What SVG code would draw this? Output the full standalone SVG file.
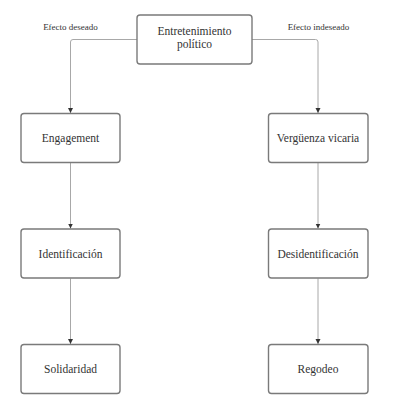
<svg xmlns="http://www.w3.org/2000/svg" width="407" height="418" viewBox="0 0 407 418">
<style>
.box{fill:#fff;stroke:#7a7a7a;stroke-width:1.4}
.t{font-family:"Liberation Serif","Times New Roman",serif;font-size:11.5px;fill:#333;text-anchor:middle}
.l{font-family:"Liberation Serif","Times New Roman",serif;font-size:9px;fill:#333;text-anchor:middle}
.c{fill:none;stroke:#a8a8a8;stroke-width:1}
</style>
<defs>
<marker id="ah" markerWidth="6" markerHeight="6" refX="5" refY="3" orient="auto" markerUnits="userSpaceOnUse">
<path d="M0,0.5 L5,3 L0,5.5 Z" fill="#333"/>
</marker>
</defs>
<rect width="407" height="418" fill="#fff"/>
<g id="connectors">
<path class="c" d="M137,39.5 H73 Q70.5,39.5 70.5,42 V113" marker-end="url(#ah)"/>
<path class="c" d="M252,39.5 H315.5 Q318,39.5 318,42 V113" marker-end="url(#ah)"/>
<path class="c" d="M70.5,163 V228.5" marker-end="url(#ah)"/>
<path class="c" d="M70.5,278.5 V344" marker-end="url(#ah)"/>
<path class="c" d="M318,163 V228.5" marker-end="url(#ah)"/>
<path class="c" d="M318,278.5 V344" marker-end="url(#ah)"/>
<text class="l" x="70.5" y="29.5">Efecto deseado</text>
<text class="l" x="318.5" y="29.5">Efecto indeseado</text>
</g>
<g id="n-entretenimiento">
<rect class="box" x="137" y="15" width="115" height="49" rx="3"/>
<text class="t" x="194.5" y="34.5">Entretenimiento</text>
<text class="t" x="194.5" y="47.5">político</text>
</g>
<g id="n-engagement">
<rect class="box" x="21" y="113.5" width="99" height="49" rx="3"/>
<text class="t" x="70.5" y="142">Engagement</text>
</g>
<g id="n-identificacion">
<rect class="box" x="21" y="229" width="99" height="49" rx="3"/>
<text class="t" x="70.5" y="257.5">Identificación</text>
</g>
<g id="n-solidaridad">
<rect class="box" x="21" y="344.5" width="99" height="49" rx="3"/>
<text class="t" x="70.5" y="373">Solidaridad</text>
</g>
<g id="n-verguenza">
<rect class="box" x="268.5" y="113.5" width="99.5" height="49" rx="3"/>
<text class="t" x="318" y="142">Vergüenza vicaria</text>
</g>
<g id="n-desidentificacion">
<rect class="box" x="268.5" y="229" width="99.5" height="49" rx="3"/>
<text class="t" x="318" y="257.5">Desidentificación</text>
</g>
<g id="n-regodeo">
<rect class="box" x="268.5" y="344.5" width="99.5" height="49" rx="3"/>
<text class="t" x="318" y="373">Regodeo</text>
</g>
</svg>
